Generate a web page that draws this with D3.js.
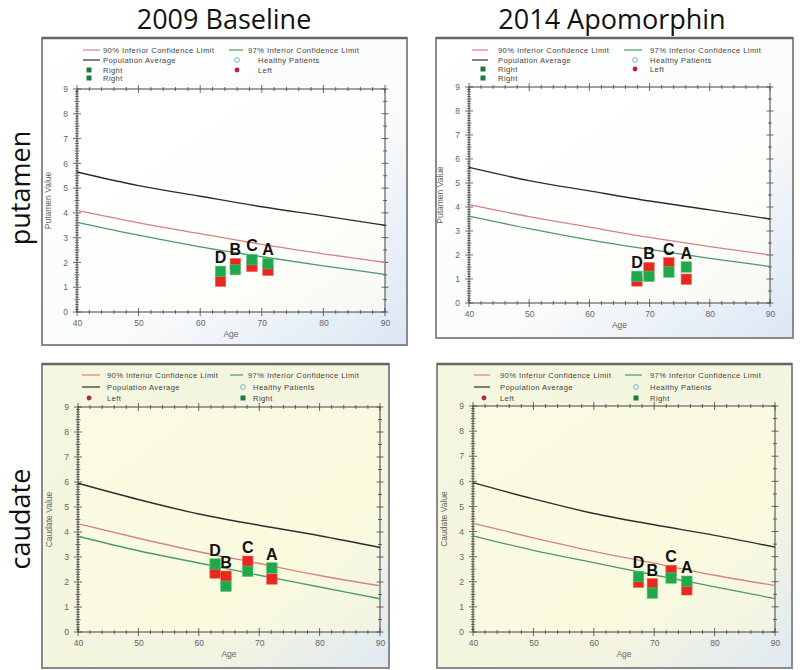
<!DOCTYPE html>
<html><head><meta charset="utf-8">
<script src="https://cdn.jsdelivr.net/npm/d3@7/dist/d3.min.js"></script>
<style>body{margin:0;background:#fff}svg{display:block}</style>
</head><body>
<script>
// ---------- DATA ----------
const ages = [40, 50, 60, 70, 80, 90];
const putamenAvg = [5.65, 5.1, 4.67, 4.25, 3.88, 3.5];
const putamen90  = [4.1, 3.6, 3.16, 2.73, 2.35, 2.0];
const putamen97  = [3.62, 3.1, 2.63, 2.23, 1.86, 1.52];
const caudateAvg = [5.95, 5.3, 4.72, 4.27, 3.85, 3.38];
const caudate90  = [4.33, 3.75, 3.21, 2.74, 2.26, 1.85];
const caudate97  = [3.83, 3.25, 2.76, 2.27, 1.8, 1.33];

const patients = ["D", "B", "C", "A"];
const putamen2009Age   = [63.3, 65.7, 68.4, 71.0];
const putamen2009Left  = [1.24, 1.95, 1.84, 1.68];
const putamen2009Right = [1.64, 1.71, 2.11, 1.95];
const putamen2014Age   = [67.9, 69.9, 73.2, 76.1];
const putamen2014Left  = [0.92, 1.47, 1.67, 0.99];
const putamen2014Right = [1.11, 1.11, 1.29, 1.5];
const caudate2009Age   = [62.7, 64.5, 68.1, 72.1];
const caudate2009Left  = [2.36, 2.23, 2.83, 2.12];
const caudate2009Right = [2.72, 1.83, 2.43, 2.56];
const caudate2014Age   = [67.4, 69.7, 72.8, 75.4];
const caudate2014Left  = [1.98, 1.92, 2.45, 1.68];
const caudate2014Right = [2.21, 1.55, 2.15, 2.02];

const xTicks = [40, 50, 60, 70, 80, 90];
const yTicks = [0, 1, 2, 3, 4, 5, 6, 7, 8, 9];
const columnTitles = ["2009 Baseline", "2014 Apomorphin"];
const rowTitles = ["putamen", "caudate"];
const legendTop = [["90% Inferior Confidence Limit", "97% Inferior Confidence Limit"], ["Population Average", "Healthy Patients"], ["Right", "Left"], ["Right", ""]];
const legendBottom = [["90% Inferior Confidence Limit", "97% Inferior Confidence Limit"], ["Population Average", "Healthy Patients"], ["Left", "Right"]];

// ---------- LAYOUT ----------
const W = 800, H = 670;
const svg = d3.select("body").append("svg").attr("width", W).attr("height", H)
  .style("font-family", "'Liberation Sans', Arial, sans-serif");

const defs = svg.append("defs");
function grad(id, stops) {
  const g = defs.append("linearGradient").attr("id", id)
    .attr("x1", "0").attr("y1", "0").attr("x2", "1").attr("y2", "1");
  stops.forEach(s => g.append("stop").attr("offset", s[0]).attr("stop-color", s[1]));
}
grad("bgTop", [[0, "#ffffff"], [0.6, "#fafbfb"], [1, "#dbe6f4"]]);
grad("plotTop", [[0, "#ffffff"], [0.7, "#fefefb"], [1, "#f5f8f3"]]);
grad("bgBot", [[0, "#f5f6df"], [0.7, "#f4f5e0"], [1, "#e0e9f3"]]);
grad("plotBot", [[0, "#fbfbe3"], [0.7, "#fafadf"], [1, "#f1f4e4"]]);

const panels = [
  {box: [42, 38, 407, 345], plot: [77, 89, 385, 312], bg: "bgTop", pbg: "plotTop", ytitle: "Putamen Value",
   avg: putamenAvg, c90: putamen90, c97: putamen97, age: putamen2009Age, left: putamen2009Left, right: putamen2009Right,
   legend: legendTop, leg: {rows: [50, 60, 70, 78], l1: 83, l2: 100, t1: 103, m1: 89, c2l1: 229, c2l2: 243, c2t: 248, c2m: 237, c2mt: 258}},
  {box: [436, 38, 793, 338], plot: [469, 87, 770, 303], bg: "bgTop", pbg: "plotTop", ytitle: "Putamen Value",
   avg: putamenAvg, c90: putamen90, c97: putamen97, age: putamen2014Age, left: putamen2014Left, right: putamen2014Right,
   legend: legendTop, leg: {rows: [50, 60, 69, 78], l1: 472, l2: 488, t1: 498, m1: 483, c2l1: 624, c2l2: 642, c2t: 650, c2m: 635, c2mt: 650}},
  {box: [42, 364, 389, 668], plot: [78, 407, 380, 632], bg: "bgBot", pbg: "plotBot", ytitle: "Caudate Value",
   avg: caudateAvg, c90: caudate90, c97: caudate97, age: caudate2009Age, left: caudate2009Left, right: caudate2009Right,
   legend: legendBottom, leg: {rows: [375, 387, 398], l1: 82, l2: 100, t1: 107, m1: 89, c2l1: 230, c2l2: 243, c2t: 248, c2m: 243, c2mt: 253}},
  {box: [437, 364, 792, 668], plot: [473, 406, 775, 632], bg: "bgBot", pbg: "plotBot", ytitle: "Caudate Value",
   avg: caudateAvg, c90: caudate90, c97: caudate97, age: caudate2014Age, left: caudate2014Left, right: caudate2014Right,
   legend: legendBottom, leg: {rows: [375, 387, 398], l1: 474, l2: 490, t1: 500, m1: 484, c2l1: 625, c2l2: 642, c2t: 650, c2m: 636, c2mt: 650}}
];

const RED = "#e8271f", GREEN = "#1fa84c", PINK = "#d9827f", TEAL = "#4c9a6a", DARK = "#2e2e2e";

panels.forEach((p, pi) => {
  const g = svg.append("g");
  const [bx0, by0, bx1, by1] = p.box;
  g.append("rect").attr("x", bx0).attr("y", by0).attr("width", bx1 - bx0).attr("height", by1 - by0)
    .attr("fill", `url(#${p.bg})`).attr("stroke", "#8a8a8a").attr("stroke-width", 2);
  g.append("line").attr("x1", bx0).attr("x2", bx1).attr("y1", by0).attr("y2", by0)
    .attr("stroke", "#666").attr("stroke-width", 2.5);
  const [px0, py0, px1, py1] = p.plot;
  const x = d3.scaleLinear().domain([40, 90]).range([px0, px1]);
  const y = d3.scaleLinear().domain([0, 9]).range([py1, py0]);
  g.append("rect").attr("x", px0).attr("y", py0).attr("width", px1 - px0).attr("height", py1 - py0)
    .attr("fill", `url(#${p.pbg})`).attr("stroke", "#444").attr("stroke-width", 1);

  // ticks
  const tk = g.append("g").attr("stroke", "#444").attr("stroke-width", 0.8);
  d3.range(0, 9.001, 0.1).forEach(v => {
    const major = Math.abs(v - Math.round(v)) < 1e-6;
    const half = Math.abs(v * 2 - Math.round(v * 2)) < 1e-6;
    const len = major ? 4 : (half ? 2.5 : 1.8);
    tk.append("line").attr("x1", px0 - len).attr("x2", px0 + len).attr("y1", y(v)).attr("y2", y(v));
  });
  d3.range(0, 9.001, 0.5).forEach(v => {
    const major = Math.abs(v - Math.round(v)) < 1e-6;
    const len = major ? 3.5 : 2;
    tk.append("line").attr("x1", px1 - len).attr("x2", px1 + len).attr("y1", y(v)).attr("y2", y(v));
  });
  d3.range(40, 90.001, 2).forEach(v => {
    const major = v % 10 === 0;
    const len = major ? 4 : 2;
    tk.append("line").attr("x1", x(v)).attr("x2", x(v)).attr("y1", py1 - len).attr("y2", py1 + len);
    tk.append("line").attr("x1", x(v)).attr("x2", x(v)).attr("y1", py0 - len).attr("y2", py0 + len);
  });

  // axis labels via d3 axes (ticks hidden)
  const xa = g.append("g").attr("transform", `translate(0,${py1})`)
    .call(d3.axisBottom(x).tickValues(xTicks).tickSize(0).tickPadding(8).tickFormat(d3.format("d")));
  const ya = g.append("g").attr("transform", `translate(${px0},0)`)
    .call(d3.axisLeft(y).tickValues(yTicks).tickSize(0).tickPadding(9).tickFormat(d3.format("d")));
  [xa, ya].forEach(a => {
    a.select(".domain").remove();
    a.selectAll("text").attr("font-size", 8.5).attr("fill", "#666").attr("font-family", "'Liberation Sans', Arial, sans-serif");
  });
  g.append("text").attr("x", (px0 + px1) / 2).attr("y", py1 + 25).attr("text-anchor", "middle")
    .attr("font-size", 8.5).attr("fill", "#666").text("Age");
  g.append("text").attr("transform", `translate(${px0 - 26},${(py0 + py1) / 2}) rotate(-90)`)
    .attr("text-anchor", "middle").attr("font-size", 8.5).attr("fill", "#666").text(p.ytitle);

  // curves
  const line = d3.line().x((d, i) => x(ages[i])).y(d => y(d)).curve(d3.curveMonotoneX);
  g.append("path").attr("d", line(p.avg)).attr("fill", "none").attr("stroke", DARK).attr("stroke-width", 1.4);
  g.append("path").attr("d", line(p.c90)).attr("fill", "none").attr("stroke", PINK).attr("stroke-width", 1.3);
  g.append("path").attr("d", line(p.c97)).attr("fill", "none").attr("stroke", TEAL).attr("stroke-width", 1.3);

  // markers
  const S = 10.5;
  const mk = g.append("g");
  p.age.forEach((a, i) => {
    mk.append("rect").attr("x", x(a) - S / 2).attr("y", y(p.left[i]) - S / 2).attr("width", S).attr("height", S)
      .attr("fill", RED).attr("stroke", "#f26a5e").attr("stroke-width", 0.6);
  });
  p.age.forEach((a, i) => {
    mk.append("rect").attr("x", x(a) - S / 2).attr("y", y(p.right[i]) - S / 2).attr("width", S).attr("height", S)
      .attr("fill", GREEN).attr("stroke", "#5cc27d").attr("stroke-width", 0.6);
  });
  p.age.forEach((a, i) => {
    const top = Math.max(p.left[i], p.right[i]);
    g.append("text").attr("x", x(a)).attr("y", y(top) - S / 2 - 3).attr("text-anchor", "middle")
      .attr("font-size", 16).attr("font-weight", "bold").attr("fill", "#111").text(patients[i]);
  });

  // legend
  const L = p.leg;
  const lg = g.append("g").attr("font-size", 7.6).attr("fill", "#444").attr("letter-spacing", 0.4);
  const lineItem = (x1, x2, yy, col) => lg.append("line").attr("x1", x1).attr("x2", x2).attr("y1", yy).attr("y2", yy).attr("stroke", col).attr("stroke-width", 1.2);
  const txt = (xx, yy, t) => lg.append("text").attr("x", xx).attr("y", yy + 3).text(t);
  const sq = (xx, yy) => lg.append("rect").attr("x", xx - 2.5).attr("y", yy - 2.5).attr("width", 5).attr("height", 5).attr("fill", "#1e7a44");
  const dot = (xx, yy) => lg.append("circle").attr("cx", xx).attr("cy", yy).attr("r", 2.4).attr("fill", "#c0203a");
  const ring = (xx, yy) => lg.append("circle").attr("cx", xx).attr("cy", yy).attr("r", 2.4).attr("fill", "none").attr("stroke", "#6fb7c8").attr("stroke-width", 1);

  lineItem(L.l1, L.l2, L.rows[0], PINK); txt(L.t1, L.rows[0], p.legend[0][0]);
  lineItem(L.c2l1, L.c2l2, L.rows[0], TEAL); txt(L.c2t, L.rows[0], p.legend[0][1]);
  lineItem(L.l1, L.l2, L.rows[1], DARK); txt(L.t1, L.rows[1], p.legend[1][0]);
  ring(L.c2m, L.rows[1]); txt(L.c2mt, L.rows[1], p.legend[1][1]);
  for (let r = 2; r < p.legend.length; r++) {
    const [a, b] = p.legend[r];
    if (a) { (a === "Left" ? dot : sq)(L.m1, L.rows[r]); txt(L.t1, L.rows[r], a); }
    if (b) { (b === "Left" ? dot : sq)(L.c2m, L.rows[r]); txt(L.c2mt, L.rows[r], b); }
  }
});

// column and row titles
const colX = [224, 612];
columnTitles.forEach((t, i) => {
  svg.append("text").attr("x", colX[i]).attr("y", 29).attr("text-anchor", "middle")
    .attr("font-family", "'Open Sans', sans-serif").attr("font-size", 27).attr("fill", "#111").text(t);
});
const rowY = [188, 519];
rowTitles.forEach((t, i) => {
  svg.append("text").attr("transform", `translate(30,${rowY[i]}) rotate(-90)`).attr("text-anchor", "middle")
    .attr("font-family", "'Open Sans', sans-serif").attr("font-size", 27).attr("fill", "#111").text(t);
});
</script>
</body></html>
